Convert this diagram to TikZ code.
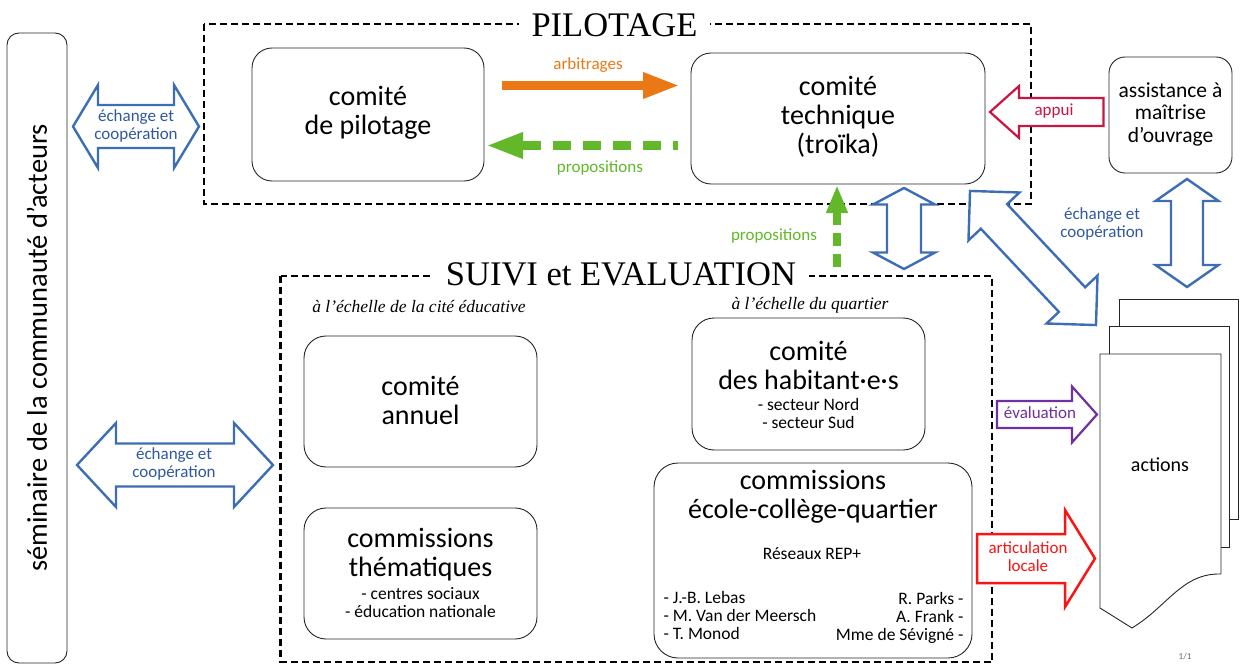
\documentclass[tikz,border=0pt]{standalone}
\usepackage{fontspec}
\setmainfont{Carlito}
\newfontfamily\serifti{Liberation Serif}
\usetikzlibrary{arrows.meta}
\definecolor{bblue}{RGB}{61,109,181}
\definecolor{tblue}{RGB}{47,88,160}
\definecolor{orng}{RGB}{234,120,20}
\definecolor{grn}{RGB}{98,184,40}
\definecolor{crim}{RGB}{204,20,66}
\definecolor{purp}{RGB}{112,48,160}
\definecolor{rred}{RGB}{250,20,20}
\newcommand{\fs}[2]{\fontsize{#1}{#2}\selectfont}
% double block arrow: cx, cy, angle, half length, head length, head half width, shaft half width
\newcommand{\dblarr}[7]{%
  \draw[blockline, shift={(#1,#2)}, rotate=#3]
    (-#4,0) -- (-#4+#5,#6) -- (-#4+#5,#7) -- (#4-#5,#7) -- (#4-#5,#6) -- (#4,0)
    -- (#4-#5,-#6) -- (#4-#5,-#7) -- (-#4+#5,-#7) -- (-#4+#5,-#6) -- cycle;}
% single block arrow: style, tail x, head base x, tip x, cy, head half width, shaft half width
\newcommand{\sglarr}[7]{%
  \draw[#1, line join=miter] (#2,#5-#7) -- (#3,#5-#7) -- (#3,#5-#6) -- (#4,#5)
    -- (#3,#5+#6) -- (#3,#5+#7) -- (#2,#5+#7) -- cycle;}
\tikzset{
  blockline/.style={draw=bblue, line width=2.4pt, line join=miter, fill=white},
  box/.style={draw=black!85, line width=0.9pt, rounded corners=20pt, fill=white,
    align=center, inner sep=0pt},
  maintxt/.style={align=center, font=\fs{28}{29}},
  subtxt/.style={align=center, font=\fs{17.5}{18}},
  lbl/.style={align=center, font=\fs{17}{18}},
  dashbox/.style={draw=black, line width=2.3pt, dash pattern=on 7pt off 4pt},
  titletxt/.style={fill=white, font=\serifti\fs{34.5}{36}, inner ysep=2pt, inner xsep=13pt},
  itl/.style={font=\serifti\itshape\fs{17.5}{18}},
  sheet/.style={draw=black!85, line width=0.9pt, fill=white}
}
\begin{document}
\begin{tikzpicture}[x=1pt,y=-1pt]
\useasboundingbox (0,0) rectangle (1240,666);

% left seminar box
\node[draw=black!85, line width=0.9pt, rounded corners=12pt, rotate=90,
  minimum width=630pt, minimum height=60pt, inner sep=0pt, font=\fs{28.5}{30}]
  (sem) at (37,348) {séminaire de la communauté d’acteurs};

% dashed frames
\draw[dashbox] (204,24) rectangle (1031,204);
\draw[dashbox] (280.5,276) rectangle (992,662);
\node[titletxt, anchor=base] (tpil) at (614.5,36.5) {PILOTAGE};
\node[titletxt, anchor=base] (tsuivi) at (621,285) {SUIVI et EVALUATION};

% pilotage boxes
\node[box, minimum width=232pt, minimum height=133pt] (cpil) at (368,114.5) {};
\node[maintxt] at (368,113) {comité\\de pilotage};
\node[box, minimum width=294pt, minimum height=131pt] (ctech) at (838,118.5) {};
\node[maintxt] at (838,117) {comité\\technique\\(troïka)};
\node[box, rounded corners=16pt, minimum width=123pt, minimum height=116pt] (amo) at (1170.5,115) {};
\node[align=center, font=\fs{21.5}{22.5}] at (1170.5,114) {assistance à\\maîtrise\\d’ouvrage};

% orange arbitrages
\coordinate (arbA) at (502,85.5);
\coordinate (arbB) at (680,85.5);
\draw[orng, line width=9pt, -{Triangle[length=37pt,width=24pt]}] (arbA) -- (arbB);
\node[lbl, text=orng] (larb) at (588,65) {arbitrages};
% green propositions (horizontal)
\coordinate (prA) at (678,145.5);
\coordinate (prB) at (486,145.5);
\draw[grn, line width=9pt, dash pattern=on 18pt off 12pt, dash phase=13pt,
  -{Triangle[length=37pt,width=24pt]}] (prA) -- (prB);
\node[lbl, text=grn] (lprop1) at (600,168) {propositions};

% suivi boxes
\node[itl] (ech1) at (419,307) {à l’échelle de la cité éducative};
\node[itl] (ech2) at (810,305) {à l’échelle du quartier};
\node[box, rounded corners=22pt, minimum width=233pt, minimum height=131pt] (cann) at (420.5,401.5) {};
\node[maintxt] at (420.5,400) {comité\\annuel};
\node[box, rounded corners=22pt, minimum width=233pt, minimum height=131pt] (cthem) at (420.5,573.5) {};
\node[maintxt] at (420.5,555) {commissions\\thématiques};
\node[subtxt] at (420.5,603) {- centres sociaux\\- éducation nationale};
\node[box, rounded corners=22pt, minimum width=233pt, minimum height=132pt] (chab) at (808.5,384) {};
\node[maintxt] at (808.5,365) {comité\\des habitant·e·s};
\node[subtxt] at (808.5,413) {- secteur Nord\\- secteur Sud};
\node[box, rounded corners=24pt, minimum width=318pt, minimum height=195pt] (ccom) at (813,560.5) {};
\node[maintxt] at (813,497) {commissions\\école-collège-quartier};
\node[subtxt] at (812,554) {Réseaux REP+};
\node[subtxt, align=left, anchor=west] at (660,615) {- J.-B. Lebas\\- M. Van der Meersch\\- T. Monod};
\node[subtxt, align=right, anchor=east] at (967,618) {R. Parks -\\A. Frank -\\Mme de Sévigné -};

% green propositions (vertical)
\coordinate (pvA) at (837,267);
\coordinate (pvB) at (837,185);
\draw[grn, line width=7.5pt, dash pattern=on 13pt off 8pt,
  -{Triangle[length=28pt,width=20pt]}] (pvA) -- (pvB);
\node[lbl, text=grn] (lprop2) at (774,236) {propositions};

% blue exchange arrows
\dblarr{136}{126.5}{0}{63}{25}{41.5}{21.5}
\node[lbl, text=tblue] (le1) at (136,125.5) {échange et\\coopération};
\dblarr{175}{465}{0}{98}{39}{42}{21.5}
\node[lbl, text=tblue] (le2) at (174,463.5) {échange et\\coopération};
\dblarr{904}{228.5}{90}{40.5}{16.5}{31}{17}
\dblarr{1187}{233}{90}{54}{22}{31.5}{16}
\dblarr{1033}{258}{-46.8}{92}{35}{35}{18}
\node[lbl, text=tblue] (le3) at (1102,223.5) {échange et\\coopération};

% actions stack
\draw[sheet] (1119,299) rectangle (1238.5,519);
\draw[sheet] (1109,326) rectangle (1229,547);
\draw[sheet, line join=miter] (1100,354) -- (1221,354) -- (1221,574)
  .. controls (1182,573) and (1168,606) .. (1132,628) -- (1100,608) -- cycle;
\node[font=\fs{20}{21}] (act) at (1160,465) {actions};

% single arrows
\sglarr{crim, line width=2.2pt, fill=white}{1103.5}{1019}{990}{112}{26}{14}
\node[lbl, text=crim] (lapp) at (1054,111) {appui};
\sglarr{purp, line width=2.2pt, fill=white}{997}{1072}{1097}{414.5}{28}{13.5}
\node[lbl, text=purp] (leval) at (1040,413) {évaluation};
\sglarr{rred, line width=2.5pt, fill=white}{977}{1065}{1095}{558.5}{48.5}{24.5}
\node[lbl, text=rred] (lart) at (1028,556.5) {articulation\\locale};

\node[font=\fs{9}{10}, text=black!60] (pg) at (1185,657) {1/1};
\end{tikzpicture}
\end{document}
